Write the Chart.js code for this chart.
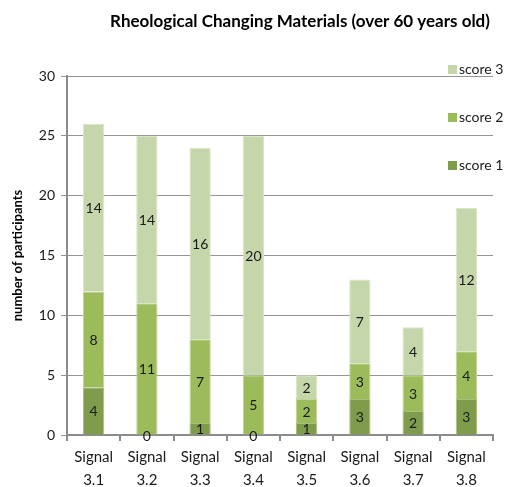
<!DOCTYPE html>
<html>
<head>
<meta charset="utf-8">
<script src="https://cdn.jsdelivr.net/npm/chart.js@4/dist/chart.umd.min.js"></script>
<style>
  html, body { margin: 0; padding: 0; background: #fff; }
  #wrap { width: 516px; height: 487px; }
</style>
</head>
<body>
<div id="wrap"><canvas id="chart" width="516" height="487"></canvas></div>
<script>
const signals = [["Signal", "3.1"], ["Signal", "3.2"], ["Signal", "3.3"], ["Signal", "3.4"],
  ["Signal", "3.5"], ["Signal", "3.6"], ["Signal", "3.7"], ["Signal", "3.8"]];
const score1 = [4, 0, 1, 0, 1, 3, 2, 3];
const score2 = [8, 11, 7, 5, 2, 3, 3, 4];
const score3 = [14, 14, 16, 20, 2, 7, 4, 12];
const yTicks = [0, 5, 10, 15, 20, 25, 30];

const FONT = "Lato, 'Open Sans', sans-serif";

/* Value inside each stacked segment */
const segmentLabels = {
  id: "segmentLabels",
  afterDatasetsDraw(chart) {
    const ctx = chart.ctx;
    ctx.save();
    ctx.font = `14px ${FONT}`;
    ctx.fillStyle = "#1a1a1a";
    ctx.textAlign = "center";
    ctx.textBaseline = "middle";
    chart.data.datasets.forEach((ds, i) => {
      chart.getDatasetMeta(i).data.forEach((bar, j) => {
        const p = bar.getProps(["x", "y", "base"], true);
        ctx.fillText(String(ds.data[j]), p.x, (p.y + p.base) / 2 + 1);
      });
    });
    ctx.restore();
  }
};

/* Title and the right-hand legend, score 3 on top */
const headerAndLegend = {
  id: "headerAndLegend",
  afterDraw(chart) {
    const ctx = chart.ctx;
    ctx.save();
    ctx.font = `bold 17px ${FONT}`;
    ctx.fillStyle = "#000";
    ctx.textAlign = "center";
    ctx.textBaseline = "middle";
    ctx.fillText("Rheological Changing Materials (over 60 years old)", 300, 22);

    const order = [2, 1, 0];
    ctx.font = `14px ${FONT}`;
    ctx.textAlign = "left";
    order.forEach((idx, k) => {
      const ds = chart.data.datasets[idx];
      const y = 69 + k * 48;
      ctx.fillStyle = ds.backgroundColor;
      ctx.fillRect(448, y - 4, 9, 9);
      ctx.fillStyle = "#1a1a1a";
      ctx.fillText(ds.label, 459, y);
    });
    ctx.restore();
  }
};

new Chart(document.getElementById("chart"), {
  type: "bar",
  data: {
    labels: signals,
    datasets: [
      { label: "score 1", data: score1, backgroundColor: "#7f9b4c", borderColor: "#a9c07d", borderWidth: 1 },
      { label: "score 2", data: score2, backgroundColor: "#9cbb5b", borderColor: "#c1d698", borderWidth: 1 },
      { label: "score 3", data: score3, backgroundColor: "#c6d6ab", borderColor: "#dbe6c8", borderWidth: 1 }
    ]
  },
  options: {
    responsive: false,
    animation: false,
    layout: { padding: { top: 76, right: 23, left: 0, bottom: 0 } },
    datasets: { bar: { categoryPercentage: 1, barPercentage: 0.4 } },
    plugins: {
      legend: { display: false },
      title: { display: false },
      tooltip: { enabled: false }
    },
    scales: {
      x: {
        stacked: true,
        grid: { drawOnChartArea: false, drawTicks: true, tickLength: 6, color: "#8c8c8c", lineWidth: 2 },
        border: { color: "#8c8c8c", width: 2 },
        ticks: { font: { family: FONT, size: 15, lineHeight: 1.5 }, color: "#1a1a1a", padding: 5, maxRotation: 0 },
        afterFit(scale) { scale.height = 52; }
      },
      y: {
        stacked: true,
        min: 0,
        max: 30,
        afterBuildTicks(scale) { scale.ticks = yTicks.map(v => ({ value: v })); },
        grid: { color: "#959595", lineWidth: 1, tickLength: 6 },
        border: { color: "#8c8c8c", width: 2 },
        ticks: { font: { family: FONT, size: 14 }, color: "#1a1a1a", padding: 6 },
        title: {
          display: true,
          text: "number of participants",
          font: { family: FONT, size: 13, weight: "bold" },
          color: "#000",
          padding: { top: 10, bottom: 0 }
        },
        afterFit(scale) { scale.width = 67; }
      }
    }
  },
  plugins: [segmentLabels, headerAndLegend]
});
</script>
</body>
</html>
